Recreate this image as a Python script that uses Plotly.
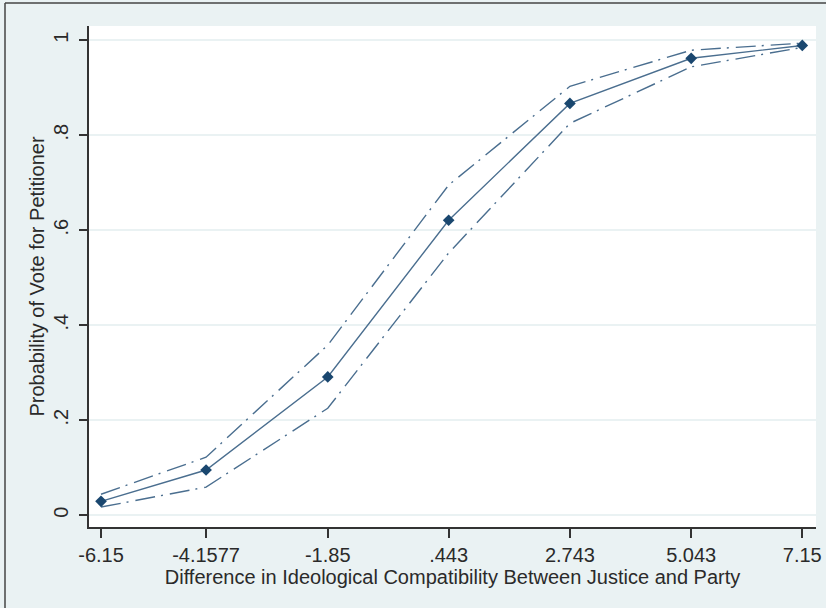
import plotly.graph_objects as go

x_vals = [-6.15, -4.1577, -1.85, 0.443, 2.743, 5.043, 7.15]
x_labels = ["-6.15", "-4.1577", "-1.85", ".443", "2.743", "5.043", "7.15"]
prob = [0.029, 0.095, 0.291, 0.621, 0.867, 0.962, 0.989]
upper = [0.044, 0.122, 0.358, 0.695, 0.903, 0.979, 0.994]
lower = [0.017, 0.059, 0.225, 0.552, 0.825, 0.944, 0.985]
y_ticks = [0, 0.2, 0.4, 0.6, 0.8, 1]
y_labels = ["0", ".2", ".4", ".6", ".8", "1"]

navy = "#1a476f"
ci_col = "#4a6e8f"
dash = "20px,6px,2px,7px"

fig = go.Figure()
fig.add_trace(go.Scatter(x=x_vals, y=upper, mode="lines",
                         line=dict(color=ci_col, width=1.4, dash=dash), showlegend=False))
fig.add_trace(go.Scatter(x=x_vals, y=lower, mode="lines",
                         line=dict(color=ci_col, width=1.4, dash=dash), showlegend=False))
fig.add_trace(go.Scatter(x=x_vals, y=prob, mode="lines+markers",
                         line=dict(color=ci_col, width=1.4),
                         marker=dict(symbol="diamond", size=9, color=navy),
                         showlegend=False))

W, H = 826, 608
L, R, T, B = 89, 10, 26, 81
pw, ph = W - L - R, H - T - B

font = dict(family="Liberation Sans, Arial, sans-serif", size=20, color="#2a2a2a")

fig.update_layout(
    width=W, height=H,
    margin=dict(l=L, r=R, t=T, b=B),
    paper_bgcolor="#eaf2f3",
    plot_bgcolor="#ffffff",
    font=font,
    xaxis=dict(range=[-6.378, 7.41], tickvals=x_vals, ticktext=x_labels,
               automargin=False,
               showgrid=False, zeroline=False, showline=True, linecolor="#333333",
               linewidth=1.5, ticks="outside", ticklen=9, tickcolor="#333333",
               tickwidth=1.5, tickfont=font,
               title=dict(text="Difference in Ideological Compatibility Between Justice and Party",
                          font=font, standoff=0)),
    yaxis=dict(range=[-0.025, 1.03], tickvals=y_ticks, ticktext=y_labels,
               automargin=False,
               showgrid=True, gridcolor="#eaf2f3", gridwidth=1.5, zeroline=False,
               showline=True, linecolor="#333333", linewidth=1.5,
               ticks="outside", ticklen=8, tickcolor="#333333", tickwidth=1.5,
               ticklabelstandoff=3,
               tickangle=-90, tickfont=font,
               title=dict(text="Probability of Vote for Petitioner", font=font, standoff=0)),
    shapes=[
        dict(type="line", xref="paper", yref="paper",
             x0=(5 - L) / pw, x1=(W + 5 - L) / pw,
             y0=1 + (T - 3) / ph, y1=1 + (T - 3) / ph,
             line=dict(color="#444444", width=1.5)),
        dict(type="line", xref="paper", yref="paper",
             x0=(5 - L) / pw, x1=(5 - L) / pw,
             y0=1 + (T - 3) / ph, y1=-(B + 5) / ph,
             line=dict(color="#444444", width=1.5)),
    ],
)

fig.write_html("out.html")
